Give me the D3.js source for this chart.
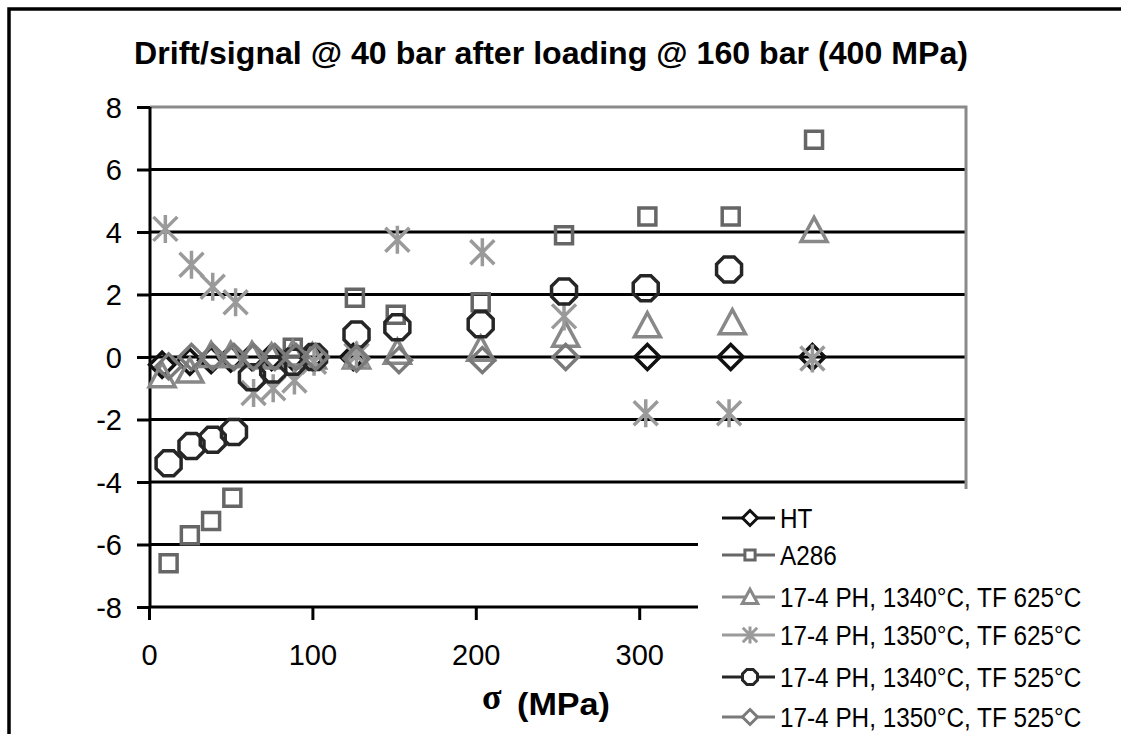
<!DOCTYPE html>
<html>
<head>
<meta charset="utf-8">
<script src="https://cdn.jsdelivr.net/npm/d3@7"></script>
<style>
  html, body { margin: 0; padding: 0; background: #fff; }
  svg { display: block; }
  text { font-family: "Liberation Sans", Arial, sans-serif; }
</style>
</head>
<body>
<svg id="chart" width="1121" height="734"></svg>
<script>
// ---------- data ----------
const title = "Drift/signal @ 40 bar after loading @ 160 bar (400 MPa)";
const xTicks = [0, 100, 200, 300];
const yTicks = [-8, -6, -4, -2, 0, 2, 4, 6, 8];

const seriesNames = [
  "HT",
  "A286",
  "17-4 PH, 1340°C, TF 625°C",
  "17-4 PH, 1350°C, TF 625°C",
  "17-4 PH, 1340°C, TF 525°C",
  "17-4 PH, 1350°C, TF 525°C"
];

const htX   = [8, 25, 38, 50, 63, 75, 88, 100, 125, 305, 356, 406];
const htY   = [-0.25, -0.15, -0.1, -0.05, 0, 0, 0, 0, 0, 0, 0, 0];

const a286X = [12, 25, 38, 51, 88, 126, 151, 203, 254, 305, 356, 407];
const a286Y = [-6.6, -5.7, -5.25, -4.5, 0.3, 1.9, 1.35, 1.75, 3.9, 4.5, 4.5, 6.95];

const t625aX = [8, 25, 38, 50, 63, 75, 88, 100, 127, 152, 203, 255, 305, 357, 407];
const t625aY = [-0.6, -0.45, 0.05, 0.05, 0.05, 0.0, 0.1, 0.0, 0.0, 0.15, 0.25, 0.7, 1.0, 1.1, 4.05];

const t625bX = [10, 26, 39, 53, 64, 76, 89, 101, 127, 152, 204, 254, 304, 355, 406];
const t625bY = [4.1, 2.95, 2.25, 1.75, -1.15, -1.0, -0.75, -0.15, 0.05, 3.75, 3.35, 1.3, -1.8, -1.8, -0.05];

const t525aX = [12, 26, 39, 52, 63, 76, 88, 101, 127, 152, 203, 254, 304, 355];
const t525aY = [-3.4, -2.85, -2.65, -2.4, -0.65, -0.4, -0.15, 0.0, 0.72, 0.95, 1.05, 2.1, 2.2, 2.8];

const t525bX = [12, 26, 39, 52, 64, 77, 90, 102, 127, 153, 204, 255];
const t525bY = [-0.3, 0.0, 0.0, 0.0, 0.0, 0.0, 0.0, 0.0, -0.05, -0.1, -0.1, 0.0];

const seriesX = [htX, a286X, t625aX, t625bX, t525aX, t525bX];
const seriesY = [htY, a286Y, t625aY, t625bY, t525aY, t525bY];
const seriesColors = ["#111111", "#666666", "#888888", "#9a9a9a", "#262626", "#7a7a7a"];
const seriesShapes = ["diamond", "square", "triangle", "star", "octagon", "diamond"];

// ---------- layout ----------
const svg = d3.select("#chart");
const L = 150, R = 966, T = 107, B = 607;
const x = d3.scaleLinear().domain([0, 500]).range([149, R]);
const y = d3.scaleLinear().domain([-8, 8]).range([B, T]);

// outer frame
svg.append("rect").attr("x", 9).attr("y", 9).attr("width", 1200).attr("height", 800)
  .attr("fill", "#fff").attr("stroke", "#000").attr("stroke-width", 3.5);

// title
svg.append("text").attr("x", 134).attr("y", 64)
  .attr("font-size", 31).attr("font-weight", "bold")
  .attr("textLength", 834).attr("lengthAdjust", "spacingAndGlyphs")
  .text(title);

// gridlines
svg.append("g").selectAll("line").data(yTicks.filter(v => v > -8 && v < 8)).join("line")
  .attr("x1", L).attr("x2", R).attr("y1", d => y(d)).attr("y2", d => y(d))
  .attr("stroke", "#000").attr("stroke-width", 3);

// plot border (top and right, gray)
svg.append("path")
  .attr("d", `M${L},${T}H${R}V${B}`)
  .attr("fill", "none").attr("stroke", "#8a8a8a").attr("stroke-width", 3);

// axes
const yAxis = svg.append("g").attr("transform", `translate(${L},0)`)
  .call(d3.axisLeft(y).tickValues(yTicks).tickSize(13).tickPadding(0).tickFormat(d3.format("d")));
yAxis.select(".domain").attr("stroke", "#000").attr("stroke-width", 3).attr("d", `M0,${T}V${B}`);
yAxis.selectAll(".tick line").attr("stroke", "#000").attr("stroke-width", 3);
yAxis.selectAll(".tick text").attr("x", -28).attr("dy", "0.36em")
  .attr("font-size", 29).attr("fill", "#000")
  .style("font-family", "'Liberation Sans', Arial, sans-serif")
  .text(d => d < 0 ? "-" + Math.abs(d) : d);

const xAxis = svg.append("g").attr("transform", `translate(0,${B})`)
  .call(d3.axisBottom(x).tickValues(xTicks).tickSize(13).tickPadding(0).tickFormat(d3.format("d")));
xAxis.select(".domain").attr("stroke", "#000").attr("stroke-width", 3).attr("d", `M${L},0H${R}`);
xAxis.selectAll(".tick line").attr("stroke", "#000").attr("stroke-width", 3);
xAxis.selectAll(".tick text").attr("y", 58).attr("dy", 0)
  .attr("font-size", 29).attr("fill", "#000")
  .style("font-family", "'Liberation Sans', Arial, sans-serif");

// x-axis label
svg.append("text").attr("x", 482).attr("y", 709)
  .attr("font-size", 36).attr("font-weight", "bold")
  .style("font-family", "'Liberation Serif', 'DejaVu Serif', serif")
  .text("σ");
svg.append("text").attr("x", 517).attr("y", 715)
  .attr("font-size", 31).attr("font-weight", "bold")
  .attr("textLength", 93).attr("lengthAdjust", "spacingAndGlyphs")
  .text("(MPa)");

// ---------- markers ----------
function shapePath(shape, s) {
  switch (shape) {
    case "diamond": {
      const h = 12.5 * s;
      return `M0,${-h}L${h},0L0,${h}L${-h},0Z`;
    }
    case "square": {
      const h = 8.5 * s;
      return `M${-h},${-h}H${h}V${h}H${-h}Z`;
    }
    case "triangle": {
      const w = 13 * s, t = 13 * s, b = 11 * s;
      return `M0,${-t}L${w},${b}H${-w}Z`;
    }
    case "star": {
      const h = 14 * s, d = 12 * s;
      return `M0,${-h}V${h}M${-d},${-d}L${d},${d}M${d},${-d}L${-d},${d}`;
    }
    case "octagon": {
      const r = 12.5 * s, a = r * 0.414;
      return `M${-a},${-r}H${a}L${r},${-a}V${a}L${a},${r}H${-a}L${-r},${a}V${-a}Z`;
    }
  }
}

const plot = svg.append("g");
seriesNames.forEach((name, i) => {
  const pts = seriesX[i].map((xv, j) => [xv, seriesY[i][j]]);
  plot.append("g").attr("class", "series")
    .selectAll("path").data(pts).join("path")
    .attr("transform", d => `translate(${x(d[0])},${y(d[1])})`)
    .attr("d", shapePath(seriesShapes[i], 1))
    .attr("fill", "none")
    .attr("stroke", seriesColors[i])
    .attr("stroke-width", 3.5)
    .attr("stroke-linejoin", "miter");
});

// ---------- legend ----------
const leg = svg.append("g");
leg.append("rect").attr("x", 698).attr("y", 489).attr("width", 440).attr("height", 260).attr("fill", "#fff");
const rowY = [518, 555, 597, 635, 677, 717];
seriesNames.forEach((name, i) => {
  const g = leg.append("g").attr("transform", `translate(0,${rowY[i]})`);
  g.append("line").attr("x1", 722).attr("x2", 775).attr("y1", 0).attr("y2", 0)
    .attr("stroke", seriesColors[i]).attr("stroke-width", 3);
  g.append("path").attr("transform", "translate(750,0)")
    .attr("d", shapePath(seriesShapes[i], 0.6))
    .attr("fill", "#fff").attr("stroke", seriesColors[i]).attr("stroke-width", 3);
  const t = g.append("text").attr("x", 780).attr("y", 10)
    .attr("font-size", 27)
    .attr("fill", "#000").text(name);
  const w = t.node().getComputedTextLength();
  t.attr("textLength", w * 0.9).attr("lengthAdjust", "spacingAndGlyphs");
});
</script>
</body>
</html>
